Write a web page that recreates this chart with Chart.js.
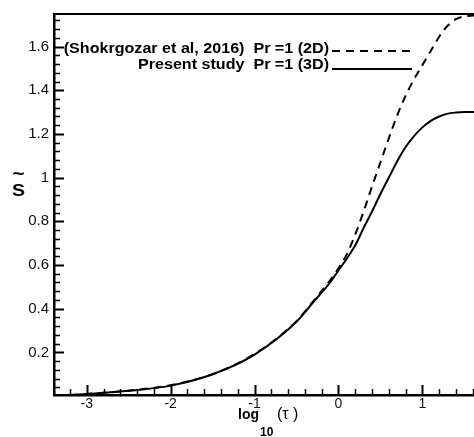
<!DOCTYPE html>
<html>
<head>
<meta charset="utf-8">
<script src="https://cdn.jsdelivr.net/npm/chart.js@4.4.1/dist/chart.umd.min.js"></script>
<style>
  html, body { margin: 0; padding: 0; background: #fff; }
  #wrap { width: 474px; height: 437px; }
</style>
</head>
<body>
<div id="wrap"><canvas id="sChart"></canvas></div>
<script>
// log10(tau) positions where the curves were read
const logTau = [-3.2, -3.0, -2.5, -2.0, -1.5, -1.0, -0.5, -0.3, -0.1, 0.0, 0.1, 0.2, 0.3,
    0.4, 0.5, 0.6, 0.7, 0.8, 0.9, 1.0, 1.1, 1.2, 1.3, 1.4, 1.5, 1.62];
// Shokrgozar et al (2016), Pr = 1, 2D
const s2D = [0.005, 0.01, 0.025, 0.05, 0.1, 0.193, 0.343, 0.435, 0.53, 0.585, 0.65, 0.74, 0.845,
    0.96, 1.07, 1.18, 1.285, 1.375, 1.45, 1.515, 1.58, 1.645, 1.695, 1.725, 1.738, 1.742];
// present study, Pr = 1, 3D
const s3D = [0.005, 0.01, 0.024, 0.048, 0.1, 0.19, 0.34, 0.43, 0.52, 0.575, 0.63, 0.69, 0.77,
    0.845, 0.925, 1.0, 1.075, 1.14, 1.19, 1.23, 1.26, 1.28, 1.293, 1.298, 1.3, 1.3];

const xTicks = [-3, -2, -1, 0, 1];
const yTicks = [0.2, 0.4, 0.6, 0.8, 1, 1.2, 1.4, 1.6];
const labels = ['(Shokrgozar et al, 2016)  Pr =1 (2D)', 'Present study  Pr =1 (3D)'];

const FONT = '"Liberation Sans", Arial, sans-serif';

// ticks pointing inward, top frame, legend and axis titles
const framePlugin = {
    id: 'framePlugin',
    afterDraw(chart) {
        const { ctx, chartArea: a, scales: { x, y } } = chart;
        ctx.save();
        ctx.strokeStyle = '#000';
        ctx.fillStyle = '#000';

        ctx.lineWidth = 2;
        ctx.beginPath();
        ctx.moveTo(a.left, a.top);
        ctx.lineTo(a.right, a.top);
        ctx.stroke();

        // x ticks every 0.2
        for (let i = Math.ceil(x.min * 5); i <= Math.floor(x.max * 5); i++) {
            const px = Math.round(x.getPixelForValue(i / 5)) + 0.5;
            const major = i % 5 === 0;
            ctx.lineWidth = major ? 2 : 1.5;
            ctx.beginPath();
            ctx.moveTo(px, a.bottom);
            ctx.lineTo(px, a.bottom - (major ? 10 : 6));
            ctx.stroke();
        }
        // y ticks every 0.04
        for (let i = Math.ceil(y.min * 25); i <= Math.floor(y.max * 25); i++) {
            const py = Math.round(y.getPixelForValue(i / 25)) + 0.5;
            const major = i % 5 === 0;
            ctx.lineWidth = major ? 2 : 1.5;
            ctx.beginPath();
            ctx.moveTo(a.left, py);
            ctx.lineTo(a.left + (major ? 10 : 6), py);
            ctx.stroke();
        }

        // legend
        const textRight = a.left + 275;
        const lineStart = a.left + 278;
        const lineEnd = a.left + 358;
        chart.data.datasets.forEach((ds, i) => {
            const textY = a.top + 35 + i * 16.5;
            const lineY = a.top + 37 + i * 18;
            ctx.save();
            ctx.translate(textRight, textY);
            ctx.scale(1.15, 1);
            ctx.font = 'bold 14px ' + FONT;
            ctx.textAlign = 'right';
            ctx.textBaseline = 'middle';
            ctx.fillText(ds.label, 0, 0);
            ctx.restore();
            ctx.lineWidth = ds.borderWidth;
            ctx.setLineDash(ds.borderDash || []);
            ctx.beginPath();
            ctx.moveTo(lineStart, lineY);
            ctx.lineTo(lineEnd, lineY);
            ctx.stroke();
            ctx.setLineDash([]);
        });

        // y title: S with tilde
        const midY = (a.top + a.bottom) / 2;
        ctx.textAlign = 'center';
        ctx.textBaseline = 'alphabetic';
        ctx.save();
        ctx.translate(18.5, midY - 9);
        ctx.scale(1.15, 1);
        ctx.font = 'bold 17px ' + FONT;
        ctx.fillText('S', 0, 0);
        ctx.font = 'bold 18px ' + FONT;
        ctx.fillText('~', 0, -16);
        ctx.restore();

        // x title: log10(tau)
        const midX = (a.left + a.right) / 2;
        ctx.textAlign = 'left';
        ctx.font = 'bold 14px ' + FONT;
        ctx.fillText('log', midX - 26, 419);
        ctx.font = 'bold 12px ' + FONT;
        ctx.fillText('10', midX - 4, 436);
        ctx.font = '16px ' + FONT;
        ctx.fillText('(\u03c4 )', midX + 13, 419);
        ctx.restore();
    }
};

const ctx = document.getElementById('sChart').getContext('2d');
new Chart(ctx, {
    type: 'line',
    data: {
        datasets: [{
            label: labels[0],
            data: logTau.map((t, i) => ({ x: t, y: s2D[i] })),
            borderColor: '#000',
            borderWidth: 2,
            borderDash: [8, 6],
            pointRadius: 0,
            cubicInterpolationMode: 'monotone'
        }, {
            label: labels[1],
            data: logTau.map((t, i) => ({ x: t, y: s3D[i] })),
            borderColor: '#000',
            borderWidth: 2,
            pointRadius: 0,
            cubicInterpolationMode: 'monotone'
        }]
    },
    options: {
        responsive: true,
        maintainAspectRatio: false,
        animation: false,
        devicePixelRatio: 1,
        layout: { padding: { top: 10, left: 0, right: 0, bottom: 0 } },
        plugins: {
            legend: { display: false },
            tooltip: { enabled: false }
        },
        scales: {
            x: {
                type: 'linear',
                min: -3.39,
                max: 1.615,
                grid: { display: false, drawTicks: false },
                border: { display: true, color: '#000', width: 2.5 },
                ticks: {
                    autoSkip: false,
                    maxRotation: 0,
                    padding: 1,
                    color: '#111',
                    font: { family: FONT, size: 14 },
                    callback: v => String(v)
                },
                afterBuildTicks: s => { s.ticks = xTicks.map(v => ({ value: v })); },
                afterFit: s => { s.height = 42; }
            },
            y: {
                min: 0.005,
                max: 1.749,
                grid: { display: false, drawTicks: false },
                border: { display: true, color: '#000', width: 2.5 },
                ticks: {
                    autoSkip: false,
                    padding: 5,
                    color: '#111',
                    font: { family: FONT, size: 15 },
                    callback: v => String(v)
                },
                afterBuildTicks: s => { s.ticks = yTicks.map(v => ({ value: v })); },
                afterFit: s => { s.width = 54; }
            }
        }
    },
    plugins: [framePlugin]
});
</script>
</body>
</html>
